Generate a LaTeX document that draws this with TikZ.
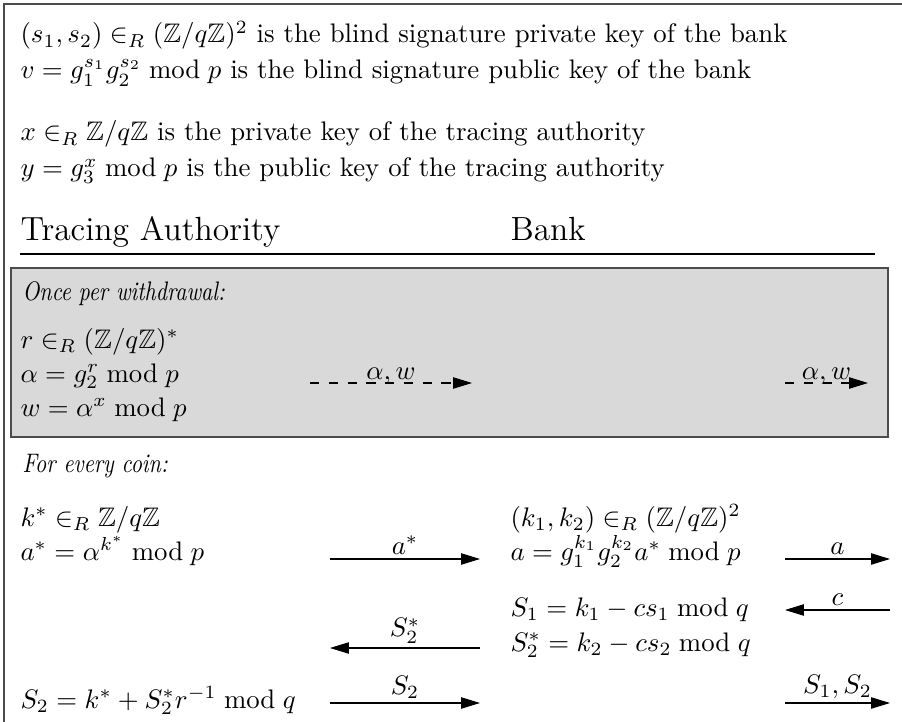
\documentclass[tikz,border=0pt]{standalone}
\usepackage{amsmath,amssymb}
\usepackage{graphicx}
\usetikzlibrary{arrows.meta,positioning}
\newcommand{\phasetext}[1]{\scalebox{0.82}[1]{\itshape #1}}

\begin{document}
\begin{tikzpicture}[
  x=0.373pt,y=-0.373pt,
  every node/.style={inner sep=0pt},
  txt/.style={anchor=base west},
  head/.style={anchor=base west,font=\fontsize{12.5}{15}\selectfont},
  phase/.style={anchor=base west},
  round/.style={draw=black!70,fill=black!15,thick},
  msg/.style={draw,-{Triangle[length=7pt,width=4.2pt]}},
  dmsg/.style={msg,dash pattern=on 3.5pt off 3.5pt},
  lbl/.style={midway,above=1.5pt}]

\useasboundingbox (0,0) rectangle (902,722);
\draw[black!70,thick] (902,4) -- (4,4) -- (4,722);

% keys
\node[txt] (keysec) at (20,43) {$(s_1,s_2)\in_R(\mathbb{Z}/q\mathbb{Z})^2$ is the blind signature private key of the bank};
\node[txt] (keypub) at (20,79) {$v=g_1^{s_1}g_2^{s_2}\bmod p$ is the blind signature public key of the bank};
\node[txt] (trsec) at (20,141) {$x\in_R\mathbb{Z}/q\mathbb{Z}$ is the private key of the tracing authority};
\node[txt] (trpub) at (20,177) {$y=g_3^x\bmod p$ is the public key of the tracing authority};

% parties
\node[head] (hdrta) at (20,240) {Tracing Authority};
\node[head] (hdrbank) at (510,240) {Bank};
\draw (20,254) -- (875,254);

% once per withdrawal
\draw[round] (11,268) rectangle (888,437);
\node[phase] (once) at (22,300) {\phasetext{Once per withdrawal:}};
\node[txt] (rr) at (20,348) {$r\in_R(\mathbb{Z}/q\mathbb{Z})^*$};
\node[txt] (alpha) at (20,382) {$\alpha=g_2^r\bmod p$};
\node[txt] (ww) at (20,416) {$w=\alpha^x\bmod p$};
\coordinate (aw1s) at (310,383); \coordinate (aw1e) at (472,383);
\coordinate (aw2s) at (785,383); \coordinate (aw2e) at (868,383);
\draw[dmsg] (aw1s) -- (aw1e) node[midway,above=-1pt] {$\alpha,w$};
\draw[dmsg] (aw2s) -- (aw2e) node[midway,above=-1pt] {$\alpha,w$};

% every coin
\node[phase] (every) at (22,472) {\phasetext{For every coin:}};
\node[txt] (kstar) at (20,526) {$k^*\in_R\mathbb{Z}/q\mathbb{Z}$};
\node[txt] (astar) at (20,560) {$a^*=\alpha^{k^*}\bmod p$};
\node[txt] (kk) at (510,526) {$(k_1,k_2)\in_R(\mathbb{Z}/q\mathbb{Z})^2$};
\node[txt] (aa) at (510,560) {$a=g_1^{k_1}g_2^{k_2}a^*\bmod p$};
\node[txt] (S1) at (510,616) {$S_1=k_1-cs_1\bmod q$};
\node[txt] (S2star) at (510,651) {$S_2^*=k_2-cs_2\bmod q$};
\node[txt] (S2) at (20,708) {$S_2=k^*+S_2^*r^{-1}\bmod q$};

\coordinate (l1) at (330,559); \coordinate (r1) at (480,559);
\coordinate (l2) at (785,559); \coordinate (r2) at (890,559);
\coordinate (l3) at (785,610); \coordinate (r3) at (890,610);
\coordinate (l4) at (330,648); \coordinate (r4) at (480,648);
\coordinate (l5) at (330,703); \coordinate (r5) at (480,703);
\coordinate (l6) at (785,703); \coordinate (r6) at (890,703);
\draw[msg] (l1) -- (r1) node[lbl] {$a^*$};
\draw[msg] (l2) -- (r2) node[lbl] {$a$};
\draw[msg] (r3) -- (l3) node[lbl] {$c$};
\draw[msg] (r4) -- (l4) node[lbl] {$S_2^*$};
\draw[msg] (l5) -- (r5) node[lbl] {$S_2$};
\draw[msg] (l6) -- (r6) node[lbl] {$S_1,S_2$};
\end{tikzpicture}
\end{document}
